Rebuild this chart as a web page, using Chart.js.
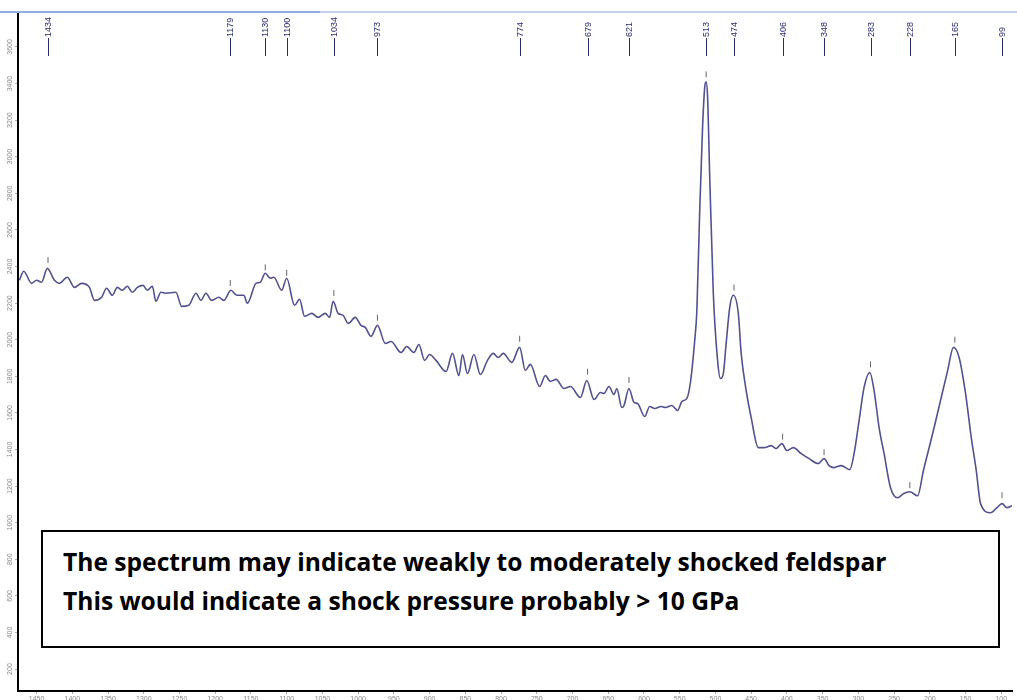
<!DOCTYPE html>
<html>
<head>
<meta charset="utf-8">
<title>Raman spectrum</title>
<script src="https://cdn.jsdelivr.net/npm/chart.js@4.4.1/dist/chart.umd.min.js"></script>
<style>
  body { margin: 0; overflow: hidden; background: #fff; }
  #wrap { position: relative; width: 1017px; height: 706px; }
  .topline { position: absolute; top: 11px; height: 2px; }
  #note {
    position: absolute; left: 41px; top: 530px; width: 955px; height: 114px;
    border: 2px solid #000; background: #fff;
    font-family: "Open Sans", sans-serif; font-weight: bold; color: #000;
  }
  #note div { position: absolute; left: 20px; line-height: 26px; white-space: nowrap; font-size: 24.6px; }
</style>
</head>
<body>
<div id="wrap">
  <canvas id="spectrum"></canvas>
  <div class="topline" style="left:0; width:1017px; background:#c3d3ee;"></div>
  <div class="topline" style="left:0; width:320px; background:#93afe0;"></div>
  <div id="note">
    <div id="note1" style="top:17px;">The spectrum may indicate weakly to moderately shocked feldspar</div>
    <div id="note2" style="top:56px;">This would indicate a shock pressure probably &gt; 10 GPa</div>
  </div>
</div>
<script>
// wavenumber (cm-1) and intensity
const wavenumbers = [1474, 1468, 1457, 1450, 1443, 1435, 1425, 1418, 1407, 1397, 1387, 1376, 1369, 1359, 1352,
  1344, 1337, 1330, 1323, 1316, 1309, 1301, 1295, 1288, 1283, 1276, 1269, 1255, 1247, 1237, 1227, 1220, 1213,
  1205, 1195, 1188, 1178, 1170, 1160, 1155, 1143, 1137, 1130, 1123, 1118, 1107, 1100, 1089, 1082, 1075, 1065,
  1056, 1046, 1040, 1035, 1028, 1021, 1014, 1004, 996, 990, 982, 973, 962, 954, 940, 932, 922, 915, 907, 900,
  891, 877, 868, 859, 854, 847, 838, 829, 819, 811, 804, 797, 785, 774, 766, 759, 746, 738, 731, 723, 712, 703,
  689, 680, 670, 661, 656, 649, 642, 638, 631, 628, 621, 614, 609, 599, 592, 585, 576, 570, 561, 553, 547, 540,
  535, 529, 526, 522, 518, 515, 513, 511, 508, 503, 497, 493, 489, 485, 480, 475, 468, 464, 457, 450, 440, 432,
  422, 415, 407, 400, 391, 380, 369, 356, 348, 341, 334, 324, 312, 306, 299, 292, 284, 278, 271, 264, 255, 245,
  237, 228, 217, 209, 196, 185, 175, 167, 159, 150, 142, 135, 129, 115, 106, 99, 92, 85];
const intensity = [2325, 2374, 2308, 2325, 2314, 2390, 2325, 2308, 2341, 2286, 2308, 2286, 2215, 2232, 2281,
  2243, 2286, 2270, 2292, 2259, 2286, 2297, 2270, 2292, 2210, 2259, 2254, 2259, 2182, 2188, 2254, 2215, 2254,
  2215, 2232, 2215, 2270, 2243, 2243, 2199, 2308, 2314, 2363, 2336, 2341, 2270, 2336, 2188, 2221, 2128, 2144,
  2122, 2144, 2122, 2210, 2144, 2133, 2089, 2122, 2078, 2067, 2018, 2078, 1980, 1990, 1930, 1963, 1930, 1974, 1887, 1919,
  1887, 1826, 1925, 1804, 1919, 1815, 1919, 1810, 1887, 1925, 1903, 1925, 1876, 1958, 1832, 1865, 1744, 1804, 1772, 1783, 1733, 1744,
  1684, 1777, 1673, 1711, 1706, 1744, 1700, 1733, 1629, 1640, 1733, 1657, 1651, 1580, 1635, 1624, 1635, 1629, 1640, 1613, 1662, 1679,
  1766, 1996, 2160, 2708, 3163, 3380, 3410, 3327, 2889, 2254, 1887, 1788, 1815, 1980, 2177, 2243, 2144, 1925, 1722, 1574, 1410, 1410,
  1421, 1405, 1432, 1394, 1410, 1377, 1350, 1323, 1350, 1312, 1301, 1312, 1290, 1377, 1558, 1739, 1821, 1722, 1520, 1377, 1191, 1136,
  1158, 1169, 1147, 1284, 1487, 1668, 1832, 1958, 1903, 1706, 1465, 1284, 1104, 1054, 1082, 1104, 1082, 1093];

// labelled peaks and the small tick drawn just above each one
const peakLabels = [1434, 1179, 1130, 1100, 1034, 973, 774, 679, 621, 513, 474, 406, 348, 283, 228, 165, 99];
const peakMarkY = [2435, 2310, 2395, 2365, 2255, 2120, 2005, 1825, 1780, 3450, 2285, 1470, 1385, 1865, 1205, 2000, 1150];

const xTicks = [1450, 1400, 1350, 1300, 1250, 1200, 1150, 1100, 1050, 1000, 950, 900, 850, 800, 750, 700,
  650, 600, 550, 500, 450, 400, 350, 300, 250, 200, 150, 100];
const yTicks = [200, 400, 600, 800, 1000, 1200, 1400, 1600, 1800, 2000, 2200, 2400, 2600, 2800, 3000, 3200, 3400, 3600];

const lineColor = '#52528e';
const labelColor = '#2b2b70';

// peak numbers and their leader lines along the top of the plot
const peakLabelPlugin = {
  id: 'peakLabels',
  afterDatasetsDraw(chart) {
    const ctx = chart.ctx;
    const xScale = chart.scales.x;
    const top = chart.chartArea.top;
    ctx.save();
    ctx.strokeStyle = labelColor;
    ctx.fillStyle = labelColor;
    ctx.lineWidth = 1;
    ctx.font = '9px "Liberation Sans", Arial, sans-serif';
    peakLabels.forEach(function(p) {
      const px = Math.round(xScale.getPixelForValue(p)) + 0.5;
      ctx.beginPath();
      ctx.moveTo(px, top + 24);
      ctx.lineTo(px, top + 42);
      ctx.stroke();
      ctx.save();
      ctx.translate(px, top + 23);
      ctx.rotate(-Math.PI / 2);
      ctx.textAlign = 'left';
      ctx.textBaseline = 'middle';
      ctx.fillText(String(p), 0, 0);
      ctx.restore();
    });
    ctx.restore();
  }
};

const tickFont = { family: '"Liberation Sans", Arial, sans-serif', size: 7 };
const plainNumber = function(v) { return String(v); };

new Chart(document.getElementById('spectrum'), {
  type: 'line',
  data: {
    datasets: [{
      label: 'Spectrum',
      data: wavenumbers.map((w, i) => ({ x: w, y: intensity[i] })),
      borderColor: lineColor,
      borderWidth: 1.6,
      pointRadius: 0,
      cubicInterpolationMode: 'monotone',
      fill: false
    }, {
      label: 'Peaks',
      type: 'scatter',
      data: peakLabels.map((p, i) => ({ x: p, y: peakMarkY[i] })),
      pointStyle: 'line',
      rotation: 90,
      radius: 3,
      borderColor: '#666',
      borderWidth: 1
    }]
  },
  options: {
    responsive: true,
    maintainAspectRatio: false,
    animation: false,
    layout: { padding: { top: 14, left: 0, right: 0, bottom: 0 } },
    plugins: {
      legend: { display: false },
      tooltip: { enabled: false }
    },
    scales: {
      x: {
        type: 'linear',
        reverse: true,
        min: 85,
        max: 1476,
        afterBuildTicks: function(s) { s.ticks = xTicks.map(v => ({ value: v })); },
        afterFit: function(s) { s.height = 15; },
        ticks: { autoSkip: false, maxRotation: 0, minRotation: 0, padding: 1, color: '#888', font: tickFont, callback: plainNumber },
        grid: { drawOnChartArea: false, tickLength: 3, color: '#aaa' },
        border: { color: '#000', width: 2 }
      },
      y: {
        min: 80,
        max: 3780,
        afterBuildTicks: function(s) { s.ticks = yTicks.map(v => ({ value: v })); },
        afterFit: function(s) { s.width = 18; },
        ticks: { minRotation: 90, maxRotation: 90, crossAlign: 'center', padding: -3, color: '#888', font: tickFont, callback: plainNumber },
        grid: { drawOnChartArea: false, tickLength: 3, color: '#aaa' },
        border: { color: '#000', width: 2 }
      }
    }
  },
  plugins: [peakLabelPlugin]
});
</script>
</body>
</html>
